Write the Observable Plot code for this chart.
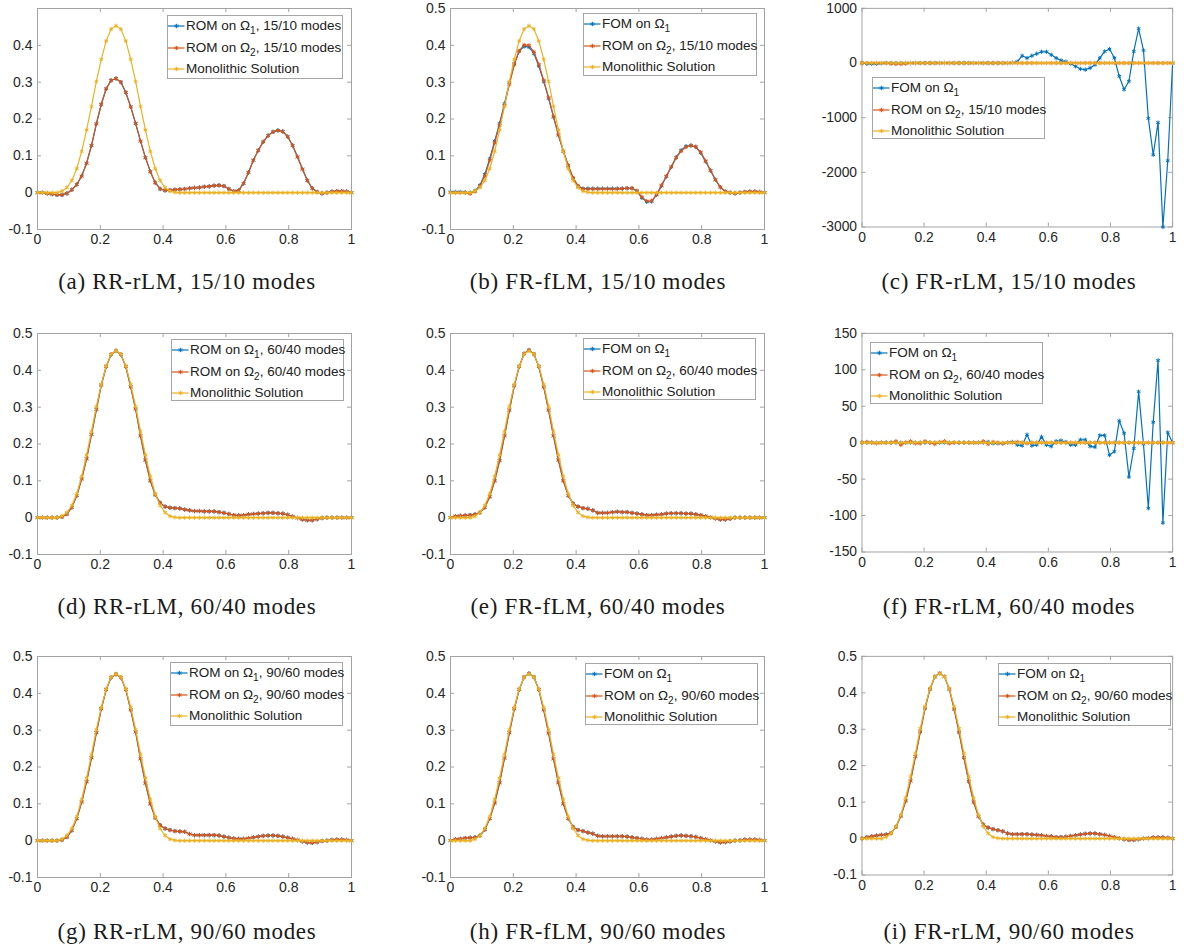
<!DOCTYPE html>
<html><head><meta charset="utf-8">
<script src="https://cdn.jsdelivr.net/npm/d3@7"></script>
<script src="https://cdn.jsdelivr.net/npm/@observablehq/plot@0.6"></script>
<style>
body{margin:0;background:#fff;}
#fig{position:relative;width:1184px;height:946px;overflow:hidden;background:#fff;font-family:"Liberation Sans",Arial,sans-serif;}
.panel{position:absolute;}
.cap{position:absolute;font-family:"Liberation Serif","Times New Roman",serif;font-size:23px;line-height:24px;letter-spacing:0.7px;white-space:nowrap;transform:translateX(-50%);color:#1a1a1a;}
.leg{position:absolute;background:#fff;border:1px solid #a6a6a6;font-size:13.5px;color:#222;box-sizing:border-box;}
.leg .row{position:absolute;left:0;height:16px;line-height:16px;display:flex;align-items:center;white-space:nowrap;}
.leg sub{font-size:0.75em;vertical-align:-0.4em;line-height:0;}
.leg svg{display:block;flex:none;margin-right:1px;}
</style></head>
<body><div id="fig"></div>
<script>
// ---------- data ----------
const xs = [0,0.015625,0.03125,0.046875,0.0625,0.078125,0.09375,0.109375,0.125,0.140625,0.15625,0.171875,0.1875,0.203125,0.21875,0.234375,0.25,0.265625,0.28125,0.296875,0.3125,0.328125,0.34375,0.359375,0.375,0.390625,0.40625,0.421875,0.4375,0.453125,0.46875,0.484375,0.5,0.515625,0.53125,0.546875,0.5625,0.578125,0.59375,0.609375,0.625,0.640625,0.65625,0.671875,0.6875,0.703125,0.71875,0.734375,0.75,0.765625,0.78125,0.796875,0.8125,0.828125,0.84375,0.859375,0.875,0.890625,0.90625,0.921875,0.9375,0.953125,0.96875,0.984375,1];
const xTicks = [0, 0.2, 0.4, 0.6, 0.8, 1];
const yTicksSmall = [-0.1, 0, 0.1, 0.2, 0.3, 0.4, 0.5];
const yTicksA = [-0.1, 0, 0.1, 0.2, 0.3, 0.4];
const yTicksC = [-3000, -2000, -1000, 0, 1000];
const yTicksF = [-150, -100, -50, 0, 50, 100, 150];

const mono = [0,0,0,0,0,0.004,0.014,0.033,0.065,0.112,
  0.17,0.234,0.302,0.362,0.412,0.444,0.453,0.444,0.412,0.362,
  0.302,0.234,0.17,0.112,0.065,0.033,0.014,0.004,0.001,0,
  0,0,0,0,0,0,0,0,0,0,
  0,0,0,0,0,0,0,0,0,0,
  0,0,0,0,0,0,0,0,0,0,
  0,0,0,0,0];

const romA = [0,0,-0.002,-0.004,-0.006,-0.006,-0.002,0.008,0.022,0.045,
  0.08,0.128,0.187,0.24,0.282,0.305,0.31,0.3,0.272,0.233,
  0.188,0.14,0.095,0.057,0.027,0.01,0.006,0.007,0.008,0.009,
  0.01,0.012,0.013,0.014,0.016,0.017,0.019,0.02,0.018,0.01,
  0.004,0.006,0.025,0.055,0.088,0.115,0.138,0.155,0.165,0.169,
  0.166,0.152,0.128,0.097,0.064,0.033,0.012,0.002,-0.002,0,
  0.003,0.004,0.004,0.003,0];

const fomB = [0.002,0.002,0.002,0.001,0,0.005,0.02,0.05,0.092,0.14,
  0.188,0.242,0.298,0.35,0.384,0.397,0.395,0.378,0.344,0.302,
  0.256,0.205,0.156,0.112,0.073,0.039,0.018,0.011,0.011,0.011,
  0.011,0.011,0.011,0.011,0.011,0.011,0.012,0.012,0.004,-0.014,
  -0.025,-0.024,-0.006,0.018,0.044,0.07,0.096,0.115,0.126,0.128,
  0.124,0.108,0.085,0.06,0.035,0.015,0.003,0,-0.002,0,
  0.002,0.003,0.003,0.002,0];
const romB = [0,0,0,0,-0.003,0.003,0.018,0.045,0.088,0.135,
  0.183,0.237,0.294,0.348,0.385,0.401,0.4,0.382,0.348,0.305,
  0.258,0.207,0.157,0.113,0.074,0.04,0.018,0.01,0.01,0.01,
  0.01,0.01,0.01,0.01,0.01,0.011,0.012,0.012,0.005,-0.012,
  -0.023,-0.022,-0.005,0.02,0.045,0.07,0.095,0.113,0.124,0.128,
  0.125,0.11,0.086,0.06,0.035,0.015,0.003,0,-0.002,0,
  0.002,0.003,0.003,0.002,0];

const fomC = [0,-15,-15,-15,-5,0,0,0,0,0,
  0,0,0,0,0,0,0,0,0,0,
  0,0,0,0,0,0,0,0,0,0,
  0,5,24,133,91,133,170,206,206,150,
  91,48,24,-12,-60,-109,-121,-91,-30,91,
  212,255,91,-242,-485,-333,212,630,230,-1012,
  -1679,-1090,-3000,-1788,0];
const romC = [0,0,0,0,0,0,-12,-18,-18,-12,
  0,0,0,0,0,0,0,0,0,0,
  0,0,0,0,0,0,0,0,0,0,
  0,0,0,0,0,0,0,0,0,0,
  0,0,0,0,0,0,0,0,0,0,
  0,0,0,0,0,0,0,0,0,0,
  0,0,0,0,0];

const romD = [0,0,0,0,0,0.002,0.01,0.028,0.06,0.105,
  0.16,0.226,0.294,0.36,0.41,0.443,0.453,0.443,0.41,0.355,
  0.295,0.222,0.156,0.1,0.062,0.04,0.03,0.027,0.026,0.025,
  0.022,0.02,0.018,0.018,0.017,0.017,0.017,0.015,0.013,0.01,
  0.007,0.006,0.007,0.009,0.01,0.011,0.012,0.013,0.013,0.012,
  0.011,0.008,0.003,-0.001,-0.005,-0.007,-0.007,-0.004,-0.001,0,
  0,0,0,0,0];

const romE = [0,0.004,0.005,0.006,0.007,0.009,0.014,0.028,0.057,0.1,
  0.155,0.222,0.292,0.358,0.41,0.445,0.455,0.444,0.41,0.355,
  0.292,0.222,0.156,0.1,0.06,0.038,0.03,0.026,0.024,0.02,
  0.013,0.013,0.013,0.015,0.016,0.015,0.015,0.013,0.011,0.009,
  0.007,0.007,0.008,0.009,0.011,0.012,0.012,0.012,0.011,0.011,
  0.009,0.007,0.004,0.001,-0.002,-0.005,-0.005,-0.003,0,0,
  0,0,0,0,0];

const fomF = [0,0,0,0,0,0,0,0,0,0,
  0,0,0,0,0,0,0,0,0,0,
  0,0,0,0,0,0,1,-1,-1,-1,
  0,1,-3,-4,11,-4,-3,8,-3,-5,
  2,3,1,-3,-3,4,4,-5,-6,10,
  10,-17,-12,30,13,-47,-8,70,-2,-90,
  28,113,-110,14,0];
const romF = [0,1,0,-1,0,0,0,2,-3,0,
  2,-1,-1,2,0,-2,1,2,-1,0,
  0,0,0,0,0,2,-2,1,0,-1,
  0,0,1,0,-1,0,0,0,0,0,
  0,0,0,0,0,0,0,0,0,0,
  0,0,0,0,0,0,0,0,0,0,
  0,0,0,0,0];

const romG = [0,0,0,0,0,0.002,0.01,0.028,0.06,0.105,
  0.16,0.225,0.293,0.358,0.41,0.443,0.452,0.443,0.41,0.355,
  0.295,0.222,0.156,0.1,0.062,0.042,0.033,0.029,0.026,0.025,
  0.024,0.018,0.015,0.015,0.015,0.015,0.015,0.014,0.011,0.008,
  0.006,0.005,0.005,0.007,0.009,0.011,0.013,0.014,0.014,0.013,
  0.011,0.008,0.005,0.002,-0.002,-0.005,-0.006,-0.004,-0.001,0,
  0.002,0.003,0.003,0.002,0];

const romH = [0,0.004,0.005,0.007,0.008,0.009,0.014,0.03,0.06,0.102,
  0.157,0.224,0.293,0.358,0.41,0.444,0.454,0.444,0.41,0.355,
  0.292,0.222,0.157,0.1,0.06,0.037,0.029,0.026,0.022,0.019,
  0.013,0.012,0.012,0.012,0.012,0.012,0.011,0.009,0.007,0.005,
  0.003,0.003,0.005,0.007,0.009,0.011,0.013,0.014,0.013,0.012,
  0.01,0.007,0.004,0.001,-0.002,-0.005,-0.004,-0.002,0,0.001,
  0.003,0.003,0.003,0.002,0];

const romI = [0,0.004,0.006,0.008,0.01,0.011,0.015,0.032,0.062,0.103,
  0.158,0.225,0.293,0.358,0.41,0.444,0.454,0.444,0.41,0.355,
  0.292,0.222,0.157,0.1,0.061,0.038,0.03,0.026,0.023,0.02,
  0.014,0.012,0.012,0.012,0.012,0.011,0.01,0.009,0.007,0.006,
  0.004,0.004,0.005,0.007,0.009,0.011,0.013,0.014,0.014,0.012,
  0.01,0.007,0.004,0.001,-0.002,-0.004,-0.004,-0.002,0,0.001,
  0.003,0.003,0.003,0.002,0];

const captions = ["(a) RR-rLM, 15/10 modes","(b) FR-fLM, 15/10 modes","(c) FR-rLM, 15/10 modes",
  "(d) RR-rLM, 60/40 modes","(e) FR-fLM, 60/40 modes","(f) FR-rLM, 60/40 modes",
  "(g) RR-rLM, 90/60 modes","(h) FR-fLM, 90/60 modes","(i) FR-rLM, 90/60 modes"];
const legRR15 = ["ROM on Ω_1, 15/10 modes","ROM on Ω_2, 15/10 modes","Monolithic Solution"];
const legFR15 = ["FOM on Ω_1","ROM on Ω_2, 15/10 modes","Monolithic Solution"];
const legRR60 = ["ROM on Ω_1, 60/40 modes","ROM on Ω_2, 60/40 modes","Monolithic Solution"];
const legFR60 = ["FOM on Ω_1","ROM on Ω_2, 60/40 modes","Monolithic Solution"];
const legRR90 = ["ROM on Ω_1, 90/60 modes","ROM on Ω_2, 90/60 modes","Monolithic Solution"];
const legFR90 = ["FOM on Ω_1","ROM on Ω_2, 90/60 modes","Monolithic Solution"];

// ---------- panel definitions (data refs) ----------
const panels = [
  {blue: romA, red: romA, dom:[-0.1,0.5], ticks:yTicksSmall, labs:yTicksA, leg:legRR15},
  {blue: fomB, red: romB, dom:[-0.1,0.5], ticks:yTicksSmall, labs:yTicksSmall, leg:legFR15},
  {blue: fomC, red: romC, dom:[-3000,1000], ticks:yTicksC, labs:yTicksC, leg:legFR15},
  {blue: romD, red: romD, dom:[-0.1,0.5], ticks:yTicksSmall, labs:yTicksSmall, leg:legRR60},
  {blue: romE, red: romE, dom:[-0.1,0.5], ticks:yTicksSmall, labs:yTicksSmall, leg:legFR60},
  {blue: fomF, red: romF, dom:[-150,150], ticks:yTicksF, labs:yTicksF, leg:legFR60},
  {blue: romG, red: romG, dom:[-0.1,0.5], ticks:yTicksSmall, labs:yTicksSmall, leg:legRR90},
  {blue: romH, red: romH, dom:[-0.1,0.5], ticks:yTicksSmall, labs:yTicksSmall, leg:legFR90},
  {blue: romI, red: romI, dom:[-0.1,0.5], ticks:yTicksSmall, labs:yTicksSmall, leg:legFR90}
];

// ---------- layout ----------
const colLeft = [37, 450, 862];
const rowTop = [8, 333, 656];
const capX = [187, 598, 1009];
const capY = [282, 607, 932];
const legBox = [
  [167, 15, 176, 64],[583, 13, 174, 63],[872, 77, 173, 62],
  [171, 339, 173, 62],[583, 338, 173, 62],[870, 342, 173, 62],
  [170, 662, 173, 64],[585, 663, 173, 62],[998, 663, 173, 63]
];
const legRows = [11, 33, 54];
const W = 314, H = 221, mL = 48, mR = 12, mT = 12, mB = 30;
const FS = 14;
const COLORS = ["#0072BD", "#D95319", "#EDB120"];
const AX = "#a3a3a3";

const fig = document.getElementById("fig");

function makePlot(p) {
  const marks = [];
  [[p.blue, COLORS[0]], [p.red, COLORS[1]], [mono, COLORS[2]]].forEach(([ys, c]) => {
    const d = xs.map((x, i) => ({x, y: ys[i]}));
    marks.push(Plot.line(d, {x: "x", y: "y", stroke: c, strokeWidth: 1.2}));
    marks.push(Plot.dot(d, {x: "x", y: "y", stroke: c, symbol: "asterisk", r: 2, strokeWidth: 1}));
  });
  return Plot.plot({
    width: W + mL + mR, height: H + mT + mB,
    marginLeft: mL, marginRight: mR, marginTop: mT, marginBottom: mB,
    x: {domain: [0, 1]}, y: {domain: p.dom},
    style: {fontFamily: "Liberation Sans, Arial, sans-serif", fontSize: FS + "px", color: "#262626", background: "transparent", overflow: "visible"},
    marks: [
      Plot.frame({stroke: AX, strokeWidth: 1}),
      Plot.tickY(p.ticks, {y: d => d, stroke: AX, insetRight: W - 4}),
      Plot.tickY(p.ticks, {y: d => d, stroke: AX, insetLeft: W - 4}),
      Plot.tickX(xTicks, {x: d => d, stroke: AX, insetTop: H - 4}),
      Plot.tickX(xTicks, {x: d => d, stroke: AX, insetBottom: H - 4}),
      Plot.axisX(xTicks, {tickSize: 0, tickPadding: 5, tickFormat: d => String(d), label: null, fill: "#262626", fontSize: FS}),
      Plot.axisY(p.labs, {tickSize: 0, tickPadding: 5, tickFormat: d => String(d), label: null, fill: "#262626", fontSize: FS}),
      ...marks
    ]
  });
}

function swatch(c) {
  return `<svg width="17" height="16"><line x1="0" x2="16.5" y1="8" y2="8" stroke="${c}" stroke-width="1.2"/>` +
    `<path d="M6.3,8h4.4M8.5,5.8v4.4M6.9,6.4l3.2,3.2M10.1,6.4l-3.2,3.2" stroke="${c}" stroke-width="0.9" fill="none"/></svg>`;
}

panels.forEach((p, k) => {
  const col = k % 3, row = Math.floor(k / 3);
  const wrap = document.createElement("div");
  wrap.className = "panel";
  wrap.style.left = (colLeft[col] - mL) + "px";
  wrap.style.top = (rowTop[row] - mT) + "px";
  wrap.appendChild(makePlot(p));
  fig.appendChild(wrap);

  const lb = legBox[k];
  const leg = document.createElement("div");
  leg.className = "leg";
  Object.assign(leg.style, {left: lb[0] + "px", top: lb[1] + "px", width: lb[2] + "px", height: lb[3] + "px"});
  p.leg.forEach((lab, j) => {
    const r = document.createElement("div");
    r.className = "row";
    r.style.top = (legRows[j] - 9) + "px";
    r.innerHTML = swatch(COLORS[j]) + "<span>" + lab.replace(/Ω_(\d)/, "Ω<sub>$1</sub>") + "</span>";
    leg.appendChild(r);
  });
  fig.appendChild(leg);

  const cap = document.createElement("div");
  cap.className = "cap";
  cap.textContent = captions[k];
  cap.style.left = capX[col] + "px";
  cap.style.top = (capY[row] - 12) + "px";
  fig.appendChild(cap);
});
</script>
</body></html>
